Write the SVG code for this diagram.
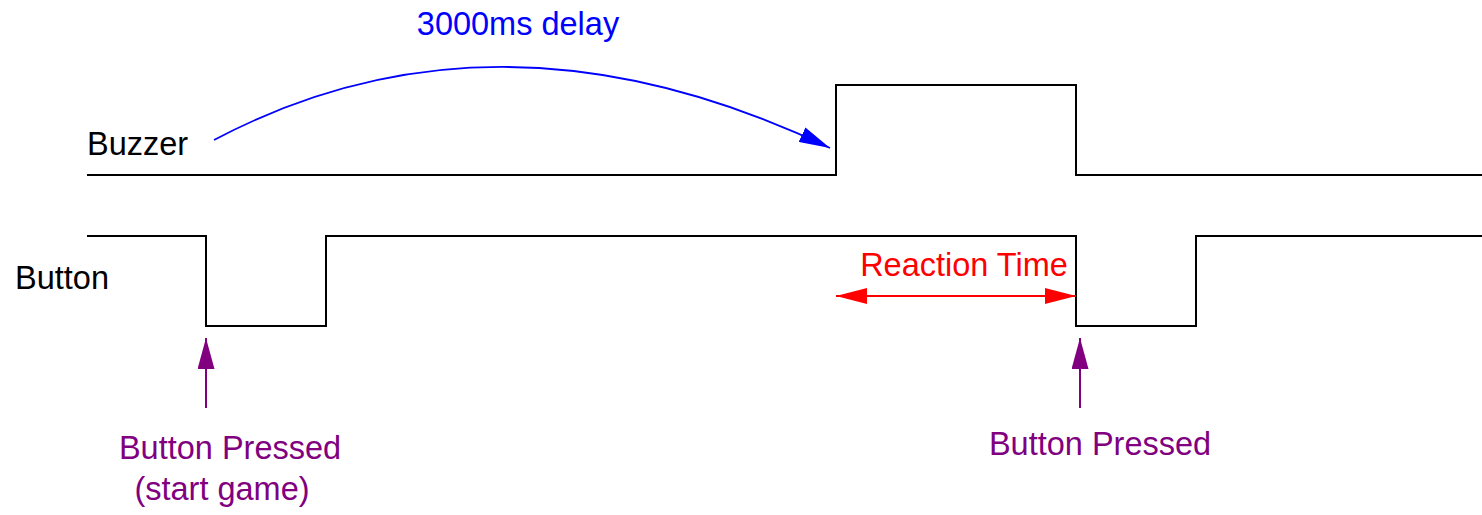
<svg xmlns="http://www.w3.org/2000/svg" width="1482" height="515" viewBox="0 0 1482 515">
<style>
text{font-family:"Liberation Sans",Arial,sans-serif;font-size:32.5px}
.sig{fill:none;stroke:#000;stroke-width:2}
.lbl{fill:#000}
.blue{fill:#0000ff}
.red{fill:#ff0000}
.pur{fill:#800080}
</style>
<defs>
<marker id="ab" viewBox="0 0 31 16" refX="31" refY="8" markerWidth="31" markerHeight="16" markerUnits="userSpaceOnUse" orient="auto"><path d="M0,0 L31,8 L0,16 Z" fill="#0000ff"/></marker>
<marker id="ar" viewBox="0 0 31 16" refX="31" refY="8" markerWidth="31" markerHeight="16" markerUnits="userSpaceOnUse" orient="auto-start-reverse"><path d="M0,0 L31,8 L0,16 Z" fill="#ff0000"/></marker>
<marker id="ap" viewBox="0 0 31 17" refX="31" refY="8.5" markerWidth="31" markerHeight="17" markerUnits="userSpaceOnUse" orient="auto"><path d="M0,0 L31,8.5 L0,17 Z" fill="#800080"/></marker>
</defs>
<g id="buzzer">
<text class="lbl" x="87" y="155">Buzzer</text>
<path class="sig" d="M87,175 H836 V85 H1076 V175 H1482"/>
</g>
<g id="button">
<text class="lbl" x="15" y="289">Button</text>
<path class="sig" d="M87,236 H206 V326 H326 V236 H1076 V326 H1196 V236 H1482"/>
</g>
<g id="delay-label"><text class="blue" x="518" y="35" text-anchor="middle">3000ms delay</text></g>
<g id="reaction-label"><text class="red" x="964" y="276" text-anchor="middle">Reaction Time</text></g>
<g id="press1-label"><text class="pur" x="230" y="459" text-anchor="middle">Button Pressed</text><text class="pur" x="222" y="500" text-anchor="middle">(start game)</text></g>
<g id="press2-label"><text class="pur" x="1100" y="455" text-anchor="middle">Button Pressed</text></g>
<g id="connectors">
<path d="M214,140 Q498,-10 830,148" fill="none" stroke="#0000ff" stroke-width="1.8" marker-end="url(#ab)"/>
<path d="M836,296 H1076" fill="none" stroke="#ff0000" stroke-width="2" marker-start="url(#ar)" marker-end="url(#ar)"/>
<path d="M206,408 V338" fill="none" stroke="#800080" stroke-width="2" marker-end="url(#ap)"/>
<path d="M1080,408 V338" fill="none" stroke="#800080" stroke-width="2" marker-end="url(#ap)"/>
</g>
</svg>
